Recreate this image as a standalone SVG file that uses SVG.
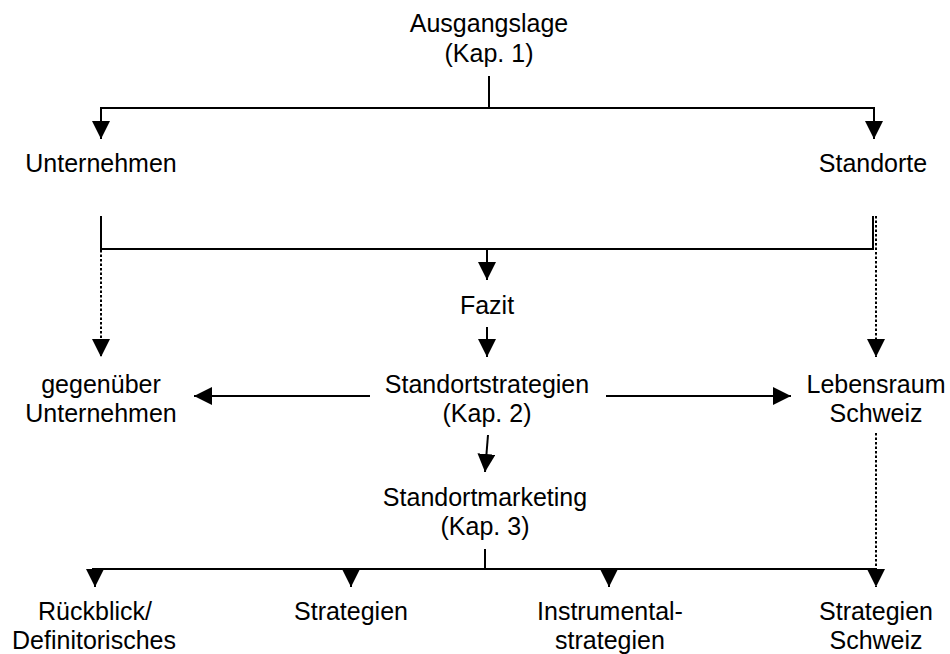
<svg xmlns="http://www.w3.org/2000/svg" width="950" height="654" viewBox="0 0 950 654">
<style>
text{font-family:"Liberation Sans",Arial,sans-serif;font-size:25px;fill:#000;text-anchor:middle}
.s{stroke:#000;stroke-width:2;fill:none}
.d{stroke:#000;stroke-width:2;fill:none;stroke-dasharray:2.5,2}
.a{marker-end:url(#ah)}
</style>
<defs>
<marker id="ah" markerUnits="userSpaceOnUse" markerWidth="18" markerHeight="18" refX="17" refY="8.5" orient="auto" viewBox="0 0 17 17">
<path d="M0,0 L17,8.5 L0,17 z" fill="#000"/>
</marker>
</defs>
<rect width="950" height="654" fill="#fff"/>
<g id="connectors">
<line class="s" x1="489" y1="76" x2="489" y2="108"/>
<line class="s" x1="100" y1="108" x2="875" y2="108"/>
<line class="s a" x1="101" y1="108" x2="101" y2="139"/>
<line class="s a" x1="874" y1="108" x2="874" y2="139"/>
<line class="s" x1="101" y1="216" x2="101" y2="249"/>
<line class="s" x1="873" y1="216" x2="873" y2="249"/>
<line class="s" x1="100" y1="249" x2="874" y2="249"/>
<line class="s a" x1="487" y1="249" x2="487" y2="280"/>
<line class="d a" x1="101" y1="250" x2="101" y2="357"/>
<line class="d a" x1="876" y1="216" x2="876" y2="357"/>
<line class="s a" x1="487" y1="327" x2="487" y2="357"/>
<line class="s a" x1="370" y1="396" x2="194" y2="396"/>
<line class="s a" x1="606" y1="396" x2="791" y2="396"/>
<line class="s a" x1="488" y1="435" x2="485" y2="472"/>
<line class="s" x1="485" y1="549" x2="485" y2="569"/>
<line class="s" x1="92" y1="569" x2="877" y2="569"/>
<line class="s a" x1="95" y1="569" x2="95" y2="587"/>
<line class="s a" x1="351" y1="569" x2="351" y2="587"/>
<line class="s a" x1="609" y1="569" x2="609" y2="587"/>
<line class="d a" x1="876" y1="433" x2="876" y2="587"/>
</g>
<g id="ausgangslage"><text x="489" y="32">Ausgangslage</text><text x="489" y="62">(Kap. 1)</text></g>
<g id="unternehmen"><text x="101" y="172">Unternehmen</text></g>
<g id="standorte"><text x="873" y="172">Standorte</text></g>
<g id="fazit"><text x="487" y="314">Fazit</text></g>
<g id="gegenueber"><text x="101" y="393">gegenüber</text><text x="101" y="422">Unternehmen</text></g>
<g id="standortstrategien"><text x="487" y="393">Standortstrategien</text><text x="487" y="422">(Kap. 2)</text></g>
<g id="lebensraum"><text x="876" y="393">Lebensraum</text><text x="876" y="422">Schweiz</text></g>
<g id="standortmarketing"><text x="485" y="506">Standortmarketing</text><text x="485" y="535">(Kap. 3)</text></g>
<g id="rueckblick"><text x="95" y="620">Rückblick/</text><text x="94" y="649">Definitorisches</text></g>
<g id="strategien"><text x="351" y="620">Strategien</text></g>
<g id="instrumental"><text x="610" y="620">Instrumental-</text><text x="610" y="649">strategien</text></g>
<g id="strategien-schweiz"><text x="876" y="620">Strategien</text><text x="876" y="649">Schweiz</text></g>
</svg>
